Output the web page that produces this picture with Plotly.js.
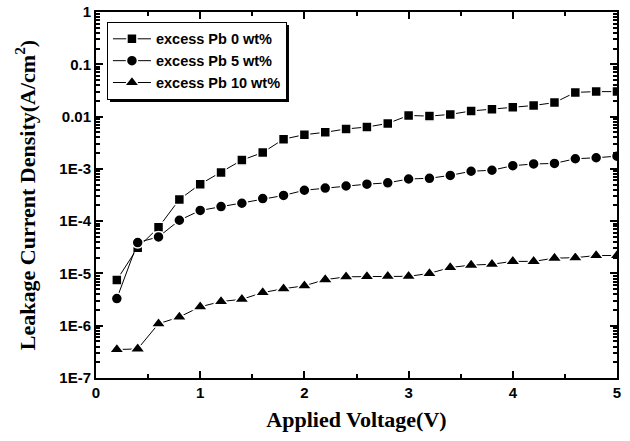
<!DOCTYPE html>
<html>
<head>
<meta charset="utf-8">
<script src="https://cdn.plot.ly/plotly-3.0.1.min.js"></script>
<style>html,body{margin:0;padding:0;background:#fff;}#chart{width:630px;height:441px;}</style>
</head>
<body>
<div id="chart"></div>
<script>
const voltage = [0.2,0.4,0.6,0.8,1.0,1.2,1.4,1.6,1.8,2.0,2.2,2.4,2.6,2.8,3.0,3.2,3.4,3.6,3.8,4.0,4.2,4.4,4.6,4.8,5.0];
const pb0 = [7.5e-6,3.1e-5,7.6e-5,2.6e-4,5.1e-4,8.5e-4,1.47e-3,2.05e-3,3.7e-3,4.5e-3,5.0e-3,5.8e-3,6.3e-3,7.4e-3,1.05e-2,1.02e-2,1.1e-2,1.28e-2,1.38e-2,1.5e-2,1.63e-2,1.85e-2,2.9e-2,3.0e-2,3.0e-2];
const pb5 = [3.3e-6,3.9e-5,5.0e-5,1.04e-4,1.6e-4,1.9e-4,2.2e-4,2.7e-4,3.1e-4,3.9e-4,4.3e-4,4.7e-4,5.1e-4,5.4e-4,6.4e-4,6.6e-4,7.5e-4,9.0e-4,9.4e-4,1.15e-3,1.24e-3,1.27e-3,1.56e-3,1.63e-3,1.75e-3];
const pb10 = [3.5e-7,3.6e-7,1.09e-6,1.47e-6,2.3e-6,2.9e-6,3.2e-6,4.3e-6,5.1e-6,5.8e-6,7.6e-6,8.6e-6,8.7e-6,8.8e-6,8.8e-6,1.0e-5,1.3e-5,1.44e-5,1.5e-5,1.7e-5,1.7e-5,1.96e-5,2.0e-5,2.2e-5,2.2e-5];
const seriesNames = ['excess Pb 0 wt%','excess Pb 5 wt%','excess Pb 10 wt%'];
const yTickVals = [1e-7,1e-6,1e-5,1e-4,1e-3,1e-2,1e-1,1];
const yTickText = ['1E-7','1E-6','1E-5','1E-4','1E-3','0.01','0.1','1'];
const xTickVals = [0,1,2,3,4,5];
const xTickText = ['0','1','2','3','4','5'];
const xMinorVals = [0.5,1.5,2.5,3.5,4.5];

const yMinor = [];
for (let e = -7; e < 0; e++) for (let m = 2; m <= 9; m++) yMinor.push(m * Math.pow(10, e));
const bold = s => '<b>' + s + '</b>';

function mk(y, name, symbol, size) {
  return {
    x: voltage, y: y, name: bold(name), type: 'scatter', mode: 'lines+markers',
    line: {color: '#000', width: 1},
    marker: {symbol: symbol, size: size, color: '#000', line: {color: '#fff', width: 1.5}},
    cliponaxis: true
  };
}
const data = [
  mk(pb0, seriesNames[0], 'square', 10),
  mk(pb5, seriesNames[1], 'circle', 11),
  mk(pb10, seriesNames[2], 'triangle-up', 13)
];
// empty anchor traces so the tick-only overlay axes are drawn
data.push({x: [null], y: [null], xaxis: 'x2', yaxis: 'y2', type: 'scatter', mode: 'markers', showlegend: false, hoverinfo: 'skip'});
data.push({x: [null], y: [null], xaxis: 'x3', yaxis: 'y3', type: 'scatter', mode: 'markers', showlegend: false, hoverinfo: 'skip'});

const tickFont = {family: 'Liberation Sans, Arial, sans-serif', size: 15, color: '#000'};
const titleFont = {family: 'Liberation Serif, Times New Roman, serif', size: 22, color: '#000'};

function tickAxis(extra) {
  return Object.assign({
    tickmode: 'array', tickcolor: '#000', ticks: 'inside',
    showticklabels: false, showline: false, mirror: 'allticks', showgrid: false, zeroline: false
  }, extra);
}

const layout = {
  width: 630, height: 441,
  margin: {l: 96, r: 13, t: 12, b: 63},
  paper_bgcolor: '#fff', plot_bgcolor: '#fff',
  showlegend: true,
  legend: {
    x: 0.021, y: 0.973, xanchor: 'left', yanchor: 'top',
    bgcolor: '#fff', bordercolor: '#000', borderwidth: 1,
    font: {family: 'Liberation Sans, Arial, sans-serif', size: 14.5, color: '#000'},
    tracegroupgap: 0, itemwidth: 38
  },
  xaxis: {
    range: [0, 5], tickmode: 'array', tickvals: xTickVals, ticktext: xTickText.map(bold),
    ticks: 'inside', ticklen: 7, tickwidth: 2, tickcolor: '#000',
    showline: true, linecolor: '#000', linewidth: 2, mirror: 'allticks',
    showgrid: false, zeroline: false,
    tickfont: tickFont,
    title: {text: bold('Applied Voltage(V)'), font: titleFont, standoff: 12}
  },
  yaxis: {
    type: 'log', range: [-7, 0], tickmode: 'array', tickvals: yTickVals, ticktext: yTickText.map(bold),
    ticks: 'inside', ticklen: 7, tickwidth: 2, tickcolor: '#000',
    showline: true, linecolor: '#000', linewidth: 2, mirror: 'allticks',
    showgrid: false, zeroline: false,
    tickfont: tickFont,
    title: {text: bold('Leakage Current Density(A/cm<sup>2</sup>)'), font: titleFont, standoff: 18}
  },
  xaxis2: tickAxis({overlaying: 'x', range: [0, 5], tickvals: xMinorVals, ticklen: 4, tickwidth: 1.5}),
  yaxis2: tickAxis({overlaying: 'y', type: 'log', range: [-7, 0], tickvals: yMinor, ticklen: 4, tickwidth: 1.5}),
  xaxis3: tickAxis({overlaying: 'x', range: [0, 5], tickvals: xTickVals, ticklen: 7, tickwidth: 2}),
  yaxis3: tickAxis({overlaying: 'y', type: 'log', range: [-7, 0], tickvals: yTickVals, ticklen: 7, tickwidth: 2}),
  shapes: [
    {type: 'rect', xref: 'paper', yref: 'paper', x0: 0.0269, x1: 0.3704, y0: 0.7541, y1: 0.9645,
     fillcolor: '#000', line: {width: 0}, layer: 'above'}
  ]
};

Plotly.newPlot('chart', data, layout, {displayModeBar: false});
</script>
</body>
</html>
